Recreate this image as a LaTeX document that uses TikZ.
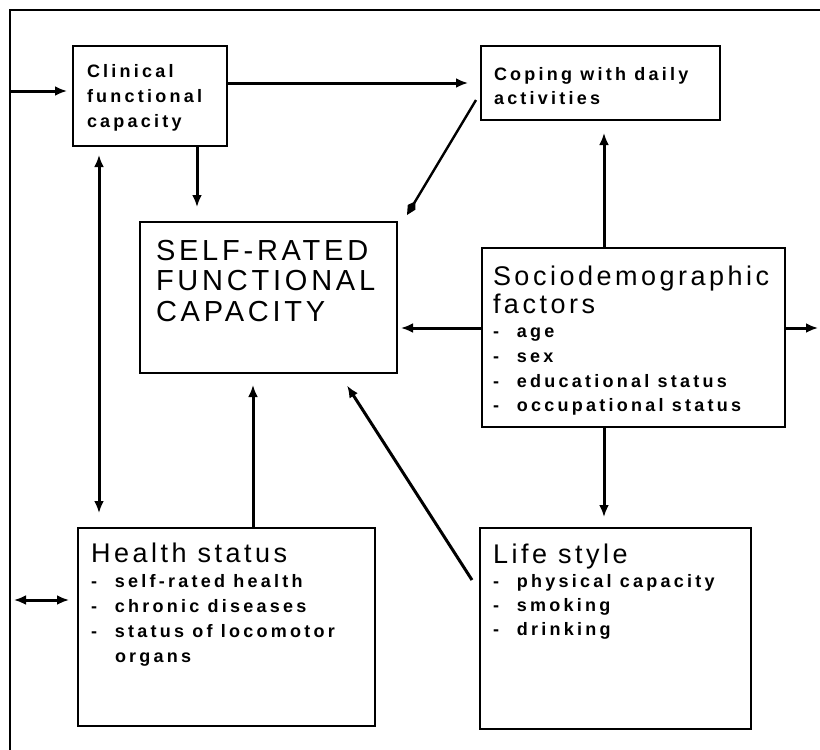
\documentclass[tikz,border=0pt]{standalone}
\usepackage{fontspec}
\setmainfont{Liberation Sans}
\newfontfamily\smallfont[LetterSpace=18]{Liberation Sans}
\newfontfamily\headfont[LetterSpace=13]{Liberation Sans}
\usetikzlibrary{arrows.meta,calc}

\newcommand\boxbody[5]{%
  \begin{minipage}[c][#2][t]{#1}%
  \leftskip=#4\relax\rightskip=0pt plus 1fil\relax
  \lineskiplimit=-100pt\relax\parskip=0pt\relax
  \hyphenpenalty=10000\relax\exhyphenpenalty=10000\relax
  \rule{0pt}{#3}#5\par
  \end{minipage}}
\newcommand\itm{\makebox[24pt][l]{-}}
\newcommand\sm[1]{\smallfont\bfseries\fontsize{18}{#1}\selectfont\ignorespaces}
\newcommand\hd{\headfont\fontsize{27}{28}\selectfont}

\begin{document}
\begin{tikzpicture}[x=1pt,y=-1pt,
  box/.style={draw, line width=2.8pt, inner sep=0pt, outer sep=0pt, anchor=north west},
  arr/.style={line width=3pt, -{Latex[length=12pt,width=10pt]}},
  dbl/.style={line width=3pt, {Latex[length=12pt,width=10pt]}-{Latex[length=12pt,width=10pt]}},
  kite/.style={line width=2.4pt, -{Kite[length=16pt,width=9pt,inset=7pt]}},
  frame/.style={line width=2.4pt}]
\useasboundingbox (0,0) rectangle (820,750);

% frame
\coordinate (f1) at (10,750);
\coordinate (f2) at (10,10);
\coordinate (f3) at (820,10);
\draw[frame] (f1) -- (f2) -- (f3);

% boxes
\node[box] (clin) at (73,46) {\boxbody{154pt}{100pt}{31pt}{14pt}{\sm{25}Clinical\\functional\\capacity}};
\node[box] (cop) at (481,46) {\boxbody{239pt}{74pt}{34pt}{13pt}{\sm{24}Coping with daily\\activities}};
\node[box] (srf) at (140,222) {\boxbody{257pt}{151pt}{38pt}{16pt}{\headfont\fontsize{29}{30.5}\selectfont SELF-RATED\\FUNCTIONAL\\CAPACITY}};
\node[box] (soc) at (482,248) {\boxbody{303pt}{179pt}{37pt}{11pt}{{\hd Sociodemographic\\factors\par}{\sm{24.7}\itm age\\\itm sex\\\itm educational status\\\itm occupational status\par}}};
\node[box] (hl) at (78,528) {\boxbody{297pt}{198pt}{34pt}{13pt}{{\hd Health status\par}{\sm{25}\itm self-rated health\\\itm chronic diseases\\\itm status of locomotor\\\hspace*{24pt}organs\par}}};
\node[box] (lif) at (480,528) {\boxbody{271pt}{201pt}{35pt}{13pt}{{\hd Life style\par}{\sm{24}\itm physical capacity\\\itm smoking\\\itm drinking\par}}};

% column helpers
\coordinate (cx1) at (604,0);
\coordinate (cx2) at (197,0);
\coordinate (cx3) at (99,0);
\coordinate (cx4) at (253,0);

% connectors
\coordinate (lb) at (10,91);
\draw[arr, shorten >=6pt] (lb) -- (clin.west |- lb);
\draw[arr, shorten >=13pt] (clin.east |- cop.west) -- (cop.west);
\draw[arr, shorten >=15pt] (clin.south -| cx2) -- (srf.north -| cx2);
\draw[dbl, shorten <=9pt, shorten >=15pt] (clin.south -| cx3) -- (hl.north -| cx3);
\draw[kite] ($(cop.south west)+(-5,-20)$) -- ($(srf.north east)+(10,-7)$);
\draw[arr, shorten >=13pt] (soc.north -| cx1) -- (cop.south -| cx1);
\draw[arr, shorten >=4pt] ([yshift=9.5pt]soc.west) coordinate (sw) -- (srf.east |- sw);
\coordinate (re) at (818,328);
\draw[arr] (soc.east |- re) -- (re);
\draw[arr, shorten >=11pt] (soc.south -| cx1) -- (lif.north -| cx1);
\draw[arr, shorten >=12pt] (hl.north -| cx4) -- (srf.south -| cx4);
\draw[arr, shorten >=15pt] ($(lif.north west)+(-8,52)$) -- ($(srf.south east)+(-58,0)$);
\coordinate (dl) at (14,600);
\draw[dbl, shorten >=9pt] (dl) -- (hl.west |- dl);
\end{tikzpicture}
\end{document}
